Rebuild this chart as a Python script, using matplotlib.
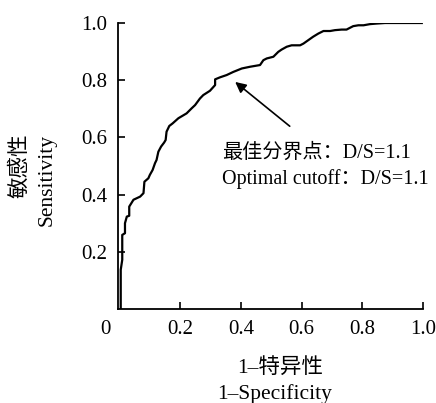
import matplotlib
matplotlib.use('Agg')
import matplotlib.pyplot as plt

plt.rcParams['font.family'] = ['Liberation Serif', 'Noto Sans CJK SC']
plt.rcParams['font.size'] = 14.5

# ROC curve
fpr = [0.004, 0.004, 0.009, 0.009, 0.018, 0.018, 0.024, 0.032, 0.032, 0.046, 0.068, 0.079,
       0.082, 0.095, 0.100, 0.109, 0.117, 0.122, 0.128, 0.137, 0.147, 0.152, 0.155, 0.164,
       0.175, 0.194, 0.221, 0.238, 0.249, 0.265, 0.276, 0.298, 0.315, 0.315, 0.331, 0.353,
       0.375, 0.403, 0.430, 0.463, 0.474, 0.485, 0.507, 0.523, 0.534, 0.551, 0.567, 0.595,
       0.606, 0.622, 0.638, 0.655, 0.672, 0.694, 0.710, 0.732, 0.748, 0.770, 0.787, 0.804,
       0.825, 0.847, 0.875, 0.996]
tpr = [0.003, 0.137, 0.172, 0.259, 0.265, 0.300, 0.323, 0.326, 0.358, 0.382, 0.393, 0.405,
       0.445, 0.457, 0.469, 0.486, 0.510, 0.521, 0.550, 0.568, 0.582, 0.591, 0.620, 0.640,
       0.649, 0.667, 0.684, 0.702, 0.713, 0.736, 0.748, 0.763, 0.783, 0.803, 0.810, 0.818,
       0.829, 0.841, 0.847, 0.853, 0.870, 0.876, 0.882, 0.899, 0.907, 0.917, 0.922, 0.922,
       0.928, 0.940, 0.952, 0.963, 0.972, 0.972, 0.975, 0.977, 0.977, 0.989, 0.992, 0.992,
       0.996, 0.998, 1.000, 1.000]

xticks = [0.2, 0.4, 0.6, 0.8, 1.0]
yticks = [0.2, 0.4, 0.6, 0.8, 1.0]
cutoff = (0.374, 0.80)
note1 = '最佳分界点：D/S=1.1'
note2 = 'Optimal cutoff：D/S=1.1'

fig = plt.figure(figsize=(4.36, 4.03), dpi=100)
ax = fig.add_axes([118 / 436, 1 - 309 / 403, 305 / 436, 286 / 403])

ax.plot(fpr, tpr, color='black', lw=1.6)
ax.set_xlim(-0.005, 1.0)
ax.set_ylim(0, 1.0)
ax.spines['top'].set_visible(False)
ax.spines['right'].set_visible(False)
for s in ['left', 'bottom']:
    ax.spines[s].set_linewidth(1.3)
ax.set_xticks(xticks)
ax.set_yticks(yticks)
ax.set_xticklabels(['%.1f' % v for v in xticks])
ax.set_yticklabels(['%.1f' % v for v in yticks])
ax.tick_params(direction='in', length=5, width=1.2, pad=8, labelsize=15)

# origin label
fig.text(105 / 436, 1 - 330 / 403, '0', ha='center', va='center', fontsize=15)

ax.annotate('', xy=cutoff, xytext=(0.568, 0.633),
            arrowprops=dict(arrowstyle='-|>', color='black', lw=1.2, mutation_scale=16))
fig.text(222 / 436, 1 - 153 / 403, note1, ha='left', va='center')
fig.text(222 / 436, 1 - 179 / 403, note2, ha='left', va='center')

fig.text(280 / 436, 1 - 368 / 403, '1–特异性', ha='center', va='center', fontsize=15.5)
fig.text(275 / 436, 1 - 394 / 403, '1–Specificity', ha='center', va='center', fontsize=15.5)
fig.text(20 / 436, 1 - 166 / 403, '敏感性', rotation=90, ha='center', va='center', fontsize=15.5)
fig.text(47 / 436, 1 - 180 / 403, 'Sensitivity', rotation=90, ha='center', va='center', fontsize=15.5)

fig.savefig('out.png', dpi=100)
